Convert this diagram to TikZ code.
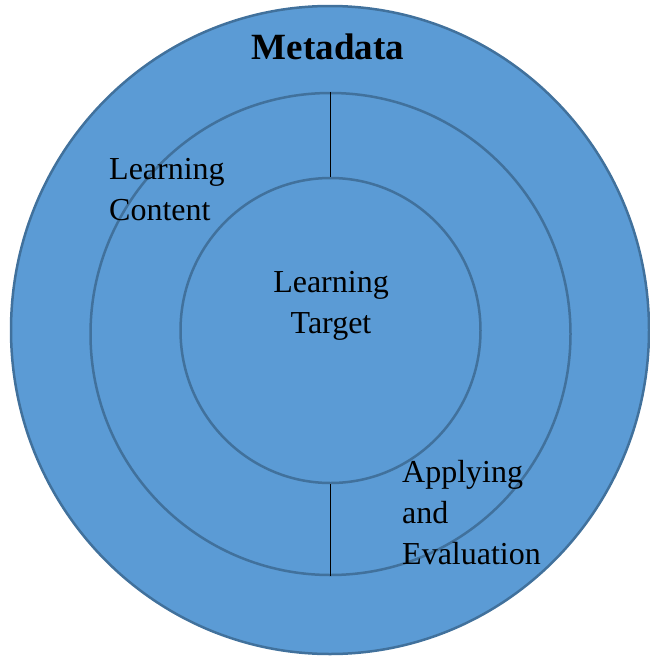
\documentclass[tikz,border=0pt]{standalone}
\usepackage{fontspec}
\setmainfont{Liberation Serif}
\usepackage{tikz}
\usetikzlibrary{shapes.geometric}
\usepackage{xcolor}
\definecolor{ringfill}{RGB}{91,155,213}
\definecolor{ringline}{RGB}{65,113,156}

\begin{document}
\begin{tikzpicture}[x=1pt,y=-1pt,
  ring/.style={ellipse,draw=ringline,line width=2.5pt,fill=ringfill,inner sep=0pt},
  lbl/.style={font=\fontsize{32}{41}\selectfont,align=left,inner sep=0pt}]
\useasboundingbox (0,0) rectangle (649,659);
\node[ring,minimum width=638pt,minimum height=648pt] (meta) at (330,330) {};
\node[ring,minimum width=480pt,minimum height=482pt] (content) at (330.5,334) {};
\node[ring,minimum width=300pt,minimum height=305pt] (target) at (330.5,330.5) {};
\draw[line width=1.6pt] (content.north) -- (target.north);
\draw[line width=1.6pt] (target.south) -- (content.south);
\node[font=\fontsize{37}{40}\selectfont\bfseries] (metalbl) at (328,47) {Metadata};
\node[lbl,anchor=north west] (contentlbl) at (109,158) {Learning\\Content};
\node[lbl,align=center,anchor=north] (targetlbl) at (331,271) {Learning\\Target};
\node[lbl,anchor=north west] (applylbl) at (402,460) {Applying\\and\\Evaluation};
\end{tikzpicture}
\end{document}
